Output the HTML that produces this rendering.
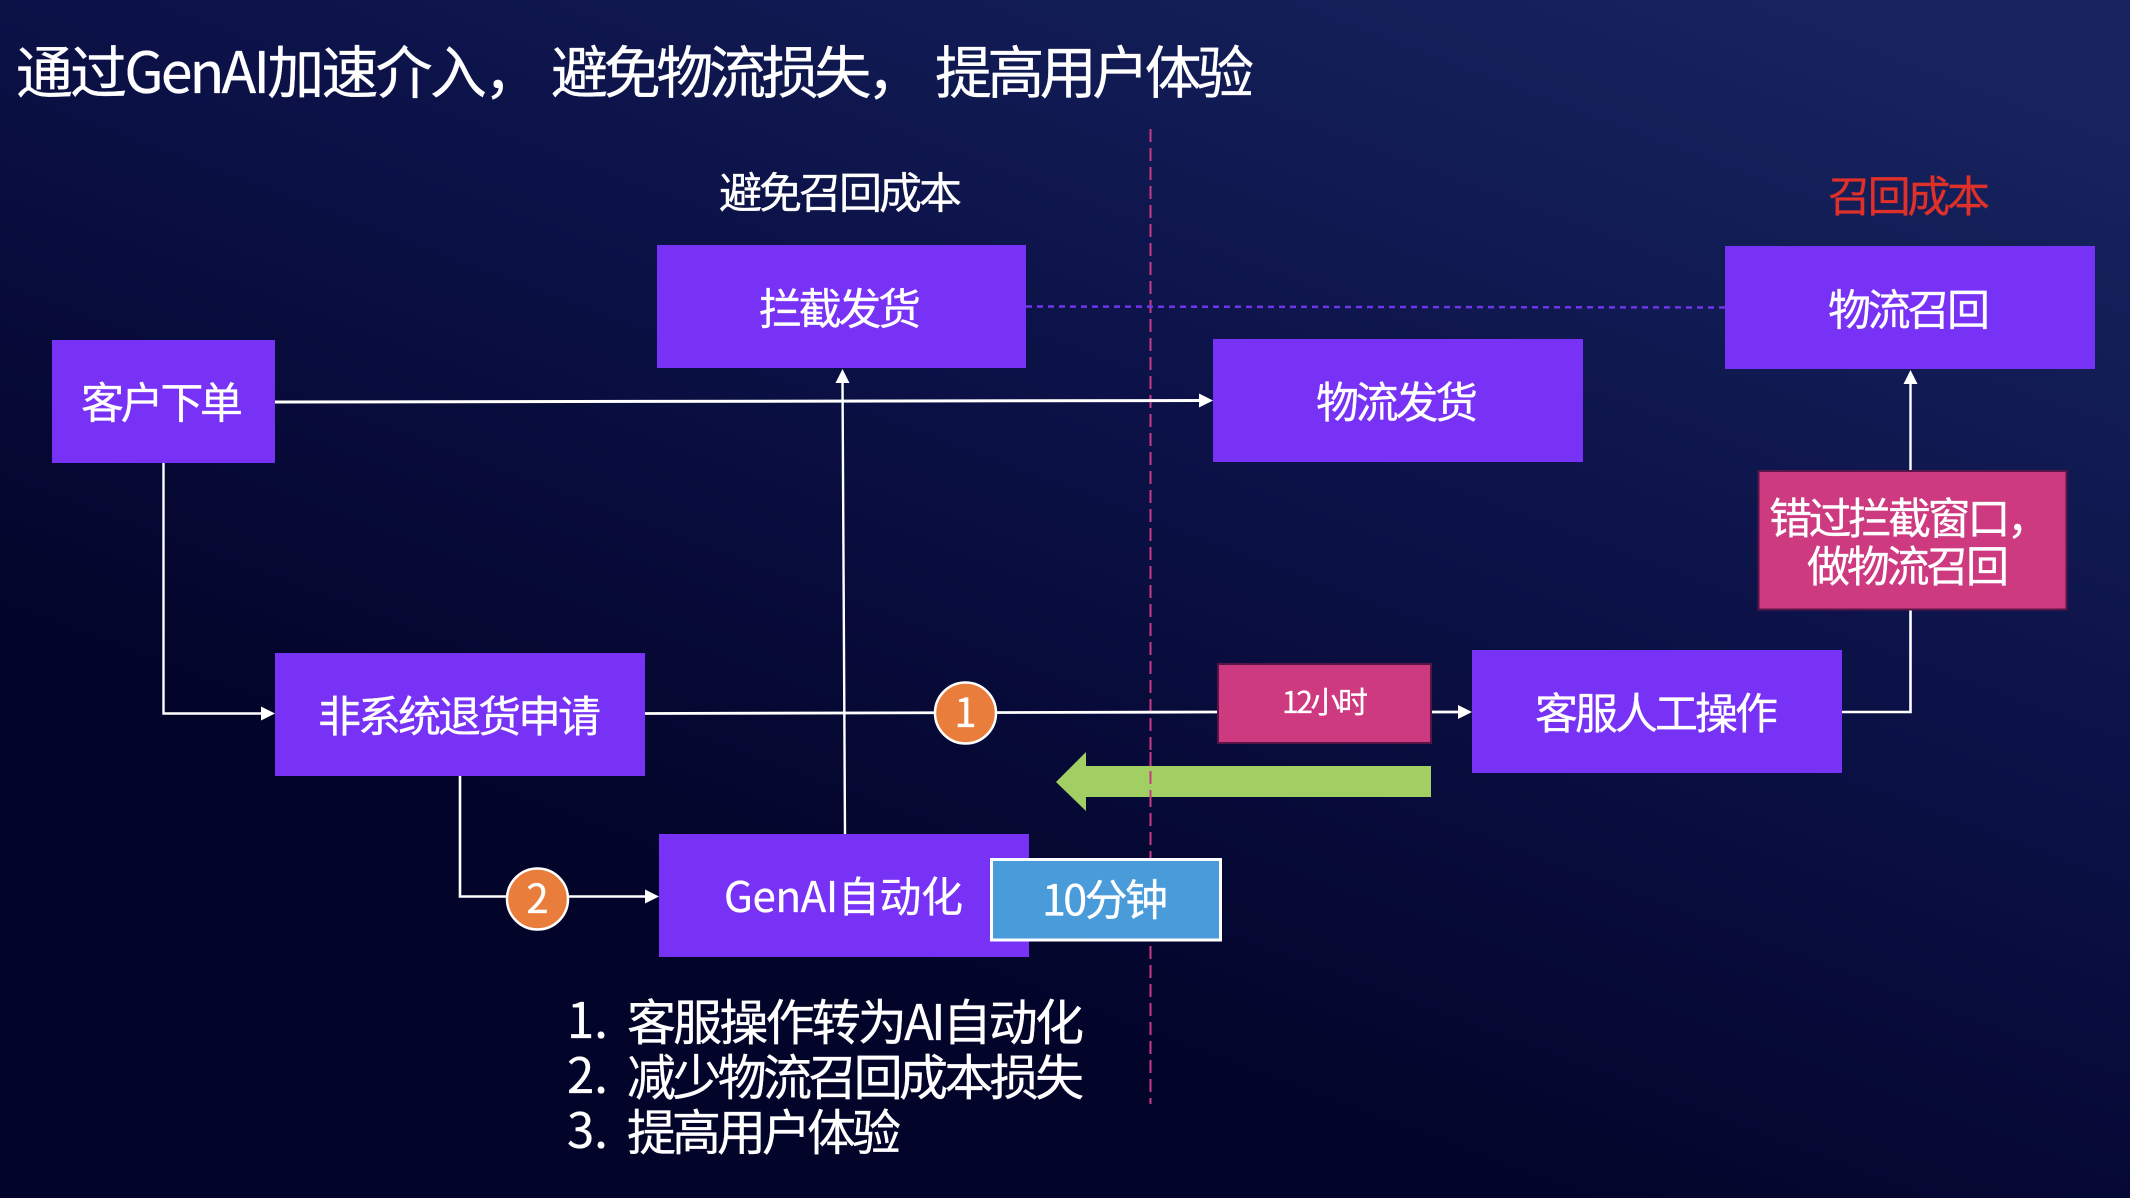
<!DOCTYPE html>
<html lang="zh-CN"><head><meta charset="utf-8"><style>
html,body{margin:0;padding:0;width:2130px;height:1198px;overflow:hidden;background:#060830}
svg{display:block}
text{font-family:"Noto Sans CJK SC","Liberation Sans",sans-serif;fill:#fff;stroke:#fff;stroke-width:.3px}
</style></head><body>
<svg width="2130" height="1198" viewBox="0 0 2130 1198" xmlns="http://www.w3.org/2000/svg">
<defs>
<linearGradient id="bg" gradientUnits="userSpaceOnUse" x1="1500" y1="1198" x2="1937" y2="28">
<stop offset="0" stop-color="#03042a"/><stop offset=".5" stop-color="#0c1248"/><stop offset="1" stop-color="#17245f"/>
</linearGradient>
</defs>
<rect width="2130" height="1198" fill="url(#bg)"/>

<!-- dashed lines -->
<line x1="1150.5" y1="129" x2="1150.5" y2="1104" stroke="#c93a86" stroke-width="2" stroke-dasharray="13 6"/>
<line x1="1026" y1="306.500" x2="1725" y2="307.500" stroke="#6f35ea" stroke-width="2.500" stroke-dasharray="6 5"/>

<!-- connectors -->
<g fill="none" stroke="#fff">
<line x1="275" y1="402" x2="1201" y2="400.500" stroke-width="3"/>
<polyline points="163.500,463 163.500,713.500 264,713.500" stroke-width="2.400"/>
<line x1="845" y1="834" x2="842.500" y2="380" stroke-width="2.400"/>
<line x1="645" y1="713.500" x2="1217" y2="712" stroke-width="2.800"/>
<line x1="1432" y1="712" x2="1461" y2="712" stroke-width="2.800"/>
<polyline points="1842,712 1910.500,712 1910.500,610" stroke-width="2.600"/>
<line x1="1910.500" y1="470" x2="1910.500" y2="380" stroke-width="2.400"/>
<polyline points="460,776 460,896.500 648,896.500" stroke-width="2.600"/>
</g>
<g fill="#fff">
<polygon points="1213,400.500 1199,393.500 1199,407.500"/>
<polygon points="275,713.500 261,706.500 261,720.500"/>
<polygon points="842.500,369 835.500,383 849.500,383"/>
<polygon points="1472,712 1458,705 1458,719"/>
<polygon points="1910.500,370 1903.500,384 1917.500,384"/>
<polygon points="659,896.500 645,889.500 645,903.500"/>
</g>

<!-- purple boxes -->
<g fill="#7832f6">
<rect x="52" y="340" width="223" height="123"/>
<rect x="657" y="245" width="369" height="123"/>
<rect x="1213" y="339" width="370" height="123"/>
<rect x="1725" y="246" width="370" height="123"/>
<rect x="1472" y="650" width="370" height="123"/>
<rect x="275" y="653" width="370" height="123"/>
<rect x="659" y="834" width="370" height="123"/>
</g>

<!-- pink boxes -->
<rect x="1758.500" y="471" width="308" height="138.500" fill="#cd3a80" stroke="#5a1548" stroke-width="2"/>
<rect x="1218" y="664" width="213" height="79" fill="#cd3a80" stroke="#5a1548" stroke-width="2"/>

<!-- blue box -->
<rect x="991.500" y="859.500" width="229" height="80.500" fill="#4a9bd9" stroke="#fff" stroke-width="3"/>

<!-- green arrow -->
<polygon points="1056,782 1086,752 1086,766 1431,766 1431,797 1086,797 1086,811" fill="#a1cf63"/>
<line x1="1150.5" y1="752" x2="1150.5" y2="800" stroke="#c93a86" stroke-width="2" stroke-dasharray="13 6"/>

<!-- circles -->
<circle cx="965.500" cy="713" r="30.500" fill="#e97d3c" stroke="#fff" stroke-width="2.500"/>
<circle cx="537.500" cy="899" r="30.500" fill="#e97d3c" stroke="#fff" stroke-width="2.500"/>
<text x="965.500" y="727" font-size="40" text-anchor="middle">1</text>
<text x="537.500" y="913" font-size="40" text-anchor="middle">2</text>

<!-- title -->
<g font-size="57">
<text x="16" y="93" textLength="525" lengthAdjust="spacing">通过GenAI加速介入，</text>
<text x="551" y="93" textLength="373" lengthAdjust="spacing">避免物流损失，</text>
<text x="935" y="93" textLength="319" lengthAdjust="spacing">提高用户体验</text>
</g>

<!-- labels -->
<g font-size="43">
<text x="719" y="208.500" textLength="243" lengthAdjust="spacing">避免召回成本</text>
<text x="1828" y="212" textLength="162" lengthAdjust="spacing" style="fill:#e0302a;stroke:#e0302a">召回成本</text>
<text x="759" y="324.500" textLength="162" lengthAdjust="spacing">拦截发货</text>
<text x="81" y="418.500" textLength="162" lengthAdjust="spacing">客户下单</text>
<text x="1316" y="418" textLength="162" lengthAdjust="spacing">物流发货</text>
<text x="1828" y="325.500" textLength="162" lengthAdjust="spacing">物流召回</text>
<text x="1769" y="534" textLength="281" lengthAdjust="spacing">错过拦截窗口，</text>
<text x="1807" y="582" textLength="202" lengthAdjust="spacing">做物流召回</text>
<text x="1535" y="729" textLength="243" lengthAdjust="spacing">客服人工操作</text>
<text x="318" y="732" textLength="283" lengthAdjust="spacing">非系统退货申请</text>
<text x="1042" y="915.500" textLength="126" lengthAdjust="spacing">10分钟</text>
</g>
<text x="724" y="912" font-size="42" textLength="239" lengthAdjust="spacing">GenAI自动化</text>
<text x="1282" y="713" font-size="30" textLength="86" lengthAdjust="spacing">12小时</text>

<!-- list -->
<g font-size="49">
<text x="567" y="1038">1.</text>
<text x="627" y="1040" textLength="457" lengthAdjust="spacing">客服操作转为AI自动化</text>
<text x="567" y="1093">2.</text>
<text x="627" y="1095" textLength="457" lengthAdjust="spacing">减少物流召回成本损失</text>
<text x="567" y="1148">3.</text>
<text x="627" y="1150" textLength="274" lengthAdjust="spacing">提高用户体验</text>
</g>
</svg>
</body></html>
